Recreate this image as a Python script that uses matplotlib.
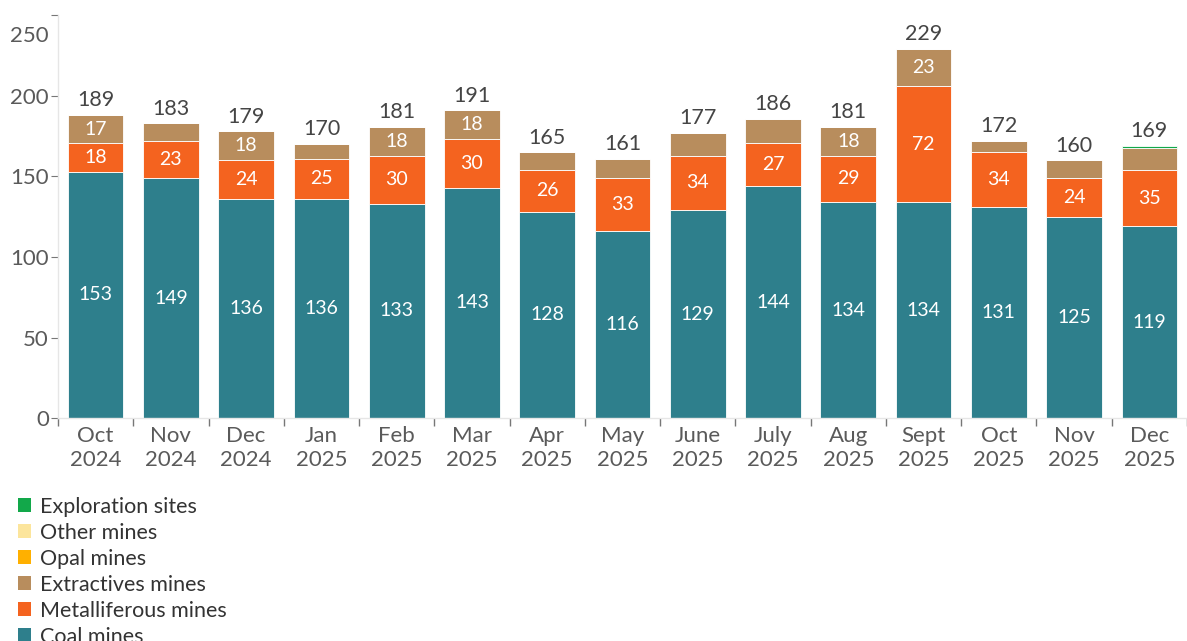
import numpy as np
import matplotlib

matplotlib.use("Agg")
import matplotlib.pyplot as plt
from matplotlib.patches import Patch
from matplotlib.transforms import ScaledTranslation

plt.rcParams["font.family"] = ["Lato", "DejaVu Sans"]

months = ["Oct\n2024", "Nov\n2024", "Dec\n2024", "Jan\n2025", "Feb\n2025",
          "Mar\n2025", "Apr\n2025", "May\n2025", "June\n2025", "July\n2025",
          "Aug\n2025", "Sept\n2025", "Oct\n2025", "Nov\n2025", "Dec\n2025"]
coal = [153, 149, 136, 136, 133, 143, 128, 116, 129, 144, 134, 134, 131, 125, 119]
metalliferous = [18, 23, 24, 25, 30, 30, 26, 33, 34, 27, 29, 72, 34, 24, 35]
extractives = [17, 11, 18, 9, 18, 18, 11, 12, 14, 15, 18, 23, 7, 11, 14]
opal = [0] * 15
other = [0] * 15
exploration = [0, 0, 0, 0, 0, 0, 0, 0, 0, 0, 0, 0, 0, 0, 1]
totals = [189, 183, 179, 170, 181, 191, 165, 161, 177, 186, 181, 229, 172, 160, 169]

series = [
    ("Coal mines", coal, "#2E7F8C"),
    ("Metalliferous mines", metalliferous, "#F4631F"),
    ("Extractives mines", extractives, "#B88D5D"),
    ("Opal mines", opal, "#FFB000"),
    ("Other mines", other, "#FCE59C"),
    ("Exploration sites", exploration, "#12A84A"),
]
LABEL_MIN = 16

fig = plt.figure(figsize=(11.87, 6.41), dpi=100)
ax = fig.add_axes([58 / 1187, 223 / 641, 1129 / 1187, 402.5 / 641])

x = np.arange(len(months))
bottom = np.zeros(len(months))
for name, vals, color in series:
    vals = np.array(vals, dtype=float)
    ax.bar(x, vals, 0.74, bottom=bottom, color=color, edgecolor="white",
           linewidth=0.6, zorder=2)
    for xi, b, v in zip(x, bottom, vals):
        if v >= LABEL_MIN:
            ax.text(xi, b + v / 2, f"{v:.0f}", ha="center", va="center",
                    color="white", fontsize=14, zorder=3)
    bottom += vals

for xi, top, t in zip(x, bottom, totals):
    ax.text(xi, top + 3, str(t), ha="center", va="bottom", color="#454545",
            fontsize=15.5)

ax.set_xlim(-0.5, -0.5 + 1129 / 75.7)
ax.set_ylim(0, 250)
ax.set_yticks([0, 50, 100, 150, 200, 250])
ax.set_xticks(x)
ax.set_xticklabels(months)
ax.set_xticks(np.arange(-0.5, len(months), 1.0), minor=True)
ax.tick_params(axis="x", which="major", length=0, pad=6, labelsize=16,
               labelcolor="#5A5A5A")
ax.tick_params(axis="x", which="minor", length=6, color="#777777", width=1)
ax.tick_params(axis="y", length=5, color="#777777", labelsize=16,
               labelcolor="#5A5A5A", pad=1.5)

lab = ax.get_yticklabels()[-1]
lab.set_transform(lab.get_transform() + ScaledTranslation(0, -13 / 72, fig.dpi_scale_trans))

for side in ["top", "right"]:
    ax.spines[side].set_visible(False)
for side in ["left", "bottom"]:
    ax.spines[side].set_color("#E6E6E6")
    ax.spines[side].set_linewidth(1.0)

handles = [Patch(facecolor=c, label=n) for n, _, c in reversed(series)]
fig.legend(handles=handles, loc="upper left", bbox_to_anchor=(0.008, 1 - 488 / 641),
           frameon=False, fontsize=15.5, handlelength=0.62, handleheight=0.62,
           handletextpad=0.4, labelspacing=0.28, labelcolor="#333333",
           borderaxespad=0)

fig.savefig("out.png", dpi=100)
